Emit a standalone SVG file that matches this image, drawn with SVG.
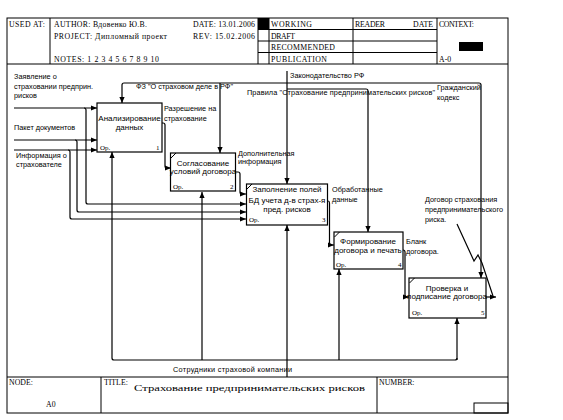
<svg xmlns="http://www.w3.org/2000/svg" width="563" height="420" viewBox="0 0 563 420">
<defs>
<marker id="ah" markerWidth="6" markerHeight="6" refX="6" refY="3" orient="auto" markerUnits="userSpaceOnUse"><path d="M0,0.4 L6,3 L0,5.6 z" fill="#000"/></marker>
</defs>
<style>
.f{fill:none;stroke:#000;stroke-width:1}
.c{fill:none;stroke:#000;stroke-width:1.2;marker-end:url(#ah)}
.n{fill:none;stroke:#000;stroke-width:1.2}
.b{fill:#fff;stroke:#000;stroke-width:1.2}
.h{font-family:"Liberation Serif",serif;font-size:7.8px;fill:#000}
.t{font-family:"Liberation Sans",sans-serif;font-size:7.3px;fill:#000}
.bt{font-family:"Liberation Sans",sans-serif;font-size:8px;fill:#000;text-anchor:middle}
.bs{font-family:"Liberation Serif",serif;font-size:7px;fill:#000}
</style>
<rect width="563" height="420" fill="#fff"/>
<g id="frame">
<rect class="f" x="7" y="18" width="501" height="395"/>
<line class="f" x1="7" y1="64" x2="508" y2="64"/>
<line class="f" x1="50" y1="18" x2="50" y2="64"/>
<line class="f" x1="258" y1="18" x2="258" y2="64"/>
<line class="f" x1="269" y1="18" x2="269" y2="64"/>
<line class="f" x1="353" y1="18" x2="353" y2="64"/>
<line class="f" x1="437" y1="18" x2="437" y2="64"/>
<line class="f" x1="258" y1="29.5" x2="437" y2="29.5"/>
<line class="f" x1="258" y1="41" x2="437" y2="41"/>
<line class="f" x1="258" y1="52.5" x2="437" y2="52.5"/>
<rect x="258" y="18" width="11" height="11.5" fill="#000"/>
<rect x="459" y="42" width="24" height="9" fill="#000"/>
<text class="h" x="9" y="27" textLength="36">USED AT:</text>
<text class="h" x="54" y="27" textLength="93">AUTHOR: Вдовенко Ю.В.</text>
<text class="h" x="54" y="38.5" textLength="113">PROJECT: Дипломный проект</text>
<text class="h" x="193" y="27" textLength="62">DATE: 13.01.2006</text>
<text class="h" x="193" y="38.5" textLength="62">REV: 15.02.2006</text>
<text class="h" x="54" y="61.5" textLength="105">NOTES: 1 2 3 4 5 6 7 8 9 10</text>
<text class="h" x="271" y="27" textLength="41">WORKING</text>
<text class="h" x="271" y="38.5" textLength="24">DRAFT</text>
<text class="h" x="271" y="50" textLength="64">RECOMMENDED</text>
<text class="h" x="271" y="61.5" textLength="56">PUBLICATION</text>
<text class="h" x="355" y="27" textLength="30">READER</text>
<text class="h" x="413" y="27" textLength="20">DATE</text>
<text class="h" x="439" y="27" textLength="35">CONTEXT:</text>
<text class="h" x="439" y="61.5">A-0</text>
<line class="f" x1="7" y1="377" x2="508" y2="377"/>
<line class="f" x1="101" y1="377" x2="101" y2="413"/>
<line class="f" x1="377" y1="377" x2="377" y2="413"/>
<rect class="f" x="474" y="403" width="34" height="10"/>
<text class="h" x="9" y="385" font-size="6.5">NODE:</text>
<text class="h" x="104" y="385" font-size="6.5">TITLE:</text>
<text class="h" x="379" y="385" font-size="6.5">NUMBER:</text>
<text class="h" x="46" y="407" font-size="10">A0</text>
<text class="h" x="134" y="391" font-size="12" textLength="231" lengthAdjust="spacingAndGlyphs">Страхование предпринимательских рисков</text>
</g>
<g id="connectors">
<path class="c" d="M14,108 H97"/>
<path class="c" d="M14,140 H97"/>
<path class="c" d="M14,150 H97"/>
<path class="c" d="M84,108 Q86,108 86,110 V202 Q86,204 88,204 H246"/>
<path class="c" d="M75,140 Q77,140 77,142 V210 Q77,212 79,212 H246"/>
<path class="c" d="M68,150 Q70,150 70,152 V217 Q70,219 72,219 H246"/>
<path class="c" d="M162,123 H163 Q165,123 165,125 V166 Q165,168 167,168 H171"/>
<path class="c" d="M236,172 H238 Q240,172 240,174 V192 Q240,194 242,194 H246"/>
<path class="c" d="M328,201 Q329.5,201 329.5,203 V243 Q329.5,245 331,245 H334"/>
<path class="c" d="M403,250 Q405,250 405,252 V295 Q405,297 407,297 H409"/>
<path class="c" d="M486,297 H496"/>
<path class="c" d="M287,71 V184"/>
<path class="c" d="M287,83 H124 Q122,83 122,85 V103"/>
<path class="c" d="M220,83 V153"/>
<path class="c" d="M287,83 H479 Q481,83 481,85 V278"/>
<path class="c" d="M287,89 H366 Q368,89 368,91 V232"/>
<path class="n" d="M114,360 H455 Q457,360 457,358"/>
<path class="c" d="M114,360 Q112,360 112,358 V152"/>
<path class="c" d="M457,360 V318"/>
<path class="c" d="M202,360 V192"/>
<path class="c" d="M287,377 V225"/>
<path class="c" d="M339,360 V269"/>
<path class="n" stroke-width="0.8" d="M457,224 L474,261 L478,255 L482,263 L493,296"/>
<text class="t" x="14" y="79">Заявление о</text>
<text class="t" x="14" y="88.5">страховании предприн.</text>
<text class="t" x="14" y="98">рисков</text>
<text class="t" x="14" y="129.5">Пакет документов</text>
<text class="t" x="16" y="158">Информация о</text>
<text class="t" x="16" y="167">страхователе</text>
<text class="t" x="136" y="89" textLength="97">ФЗ "О страховом деле в РФ"</text>
<text class="t" x="290" y="77.5">Законодательство РФ</text>
<text class="t" x="247" y="95" textLength="188">Правила "Страхование предпринимательских рисков"</text>
<text class="t" x="437" y="89.5">Гражданский</text>
<text class="t" x="437" y="99.5">кодекс</text>
<text class="t" x="164" y="110.5">Разрешение на</text>
<text class="t" x="164" y="120.5">страхование</text>
<text class="t" x="238" y="156">Дополнительная</text>
<text class="t" x="238" y="164">информация</text>
<text class="t" x="332" y="191.5">Обработанные</text>
<text class="t" x="332" y="202">данные</text>
<text class="t" x="406" y="243.5">Бланк</text>
<text class="t" x="406" y="253.5">договора.</text>
<text class="t" x="425" y="201.5">Договор страхования</text>
<text class="t" x="425" y="211.5">предпринимательского</text>
<text class="t" x="425" y="221.5">риска.</text>
<text class="t" x="173" y="372" textLength="119">Сотрудники страховой компании</text>
</g>
<g id="node1">
<rect class="b" x="97" y="103" width="65" height="49"/>
<text class="bt" x="129.5" y="120.5">Анализирование</text>
<text class="bt" x="129.5" y="129.5">данных</text>
<text class="bs" x="100" y="150">Ор.</text>
<text class="bs" x="156" y="150">1</text>
</g>
<g id="node2">
<rect class="b" x="170.5" y="153" width="65" height="38"/>
<line class="f" x1="171" y1="158" x2="176" y2="153"/>
<text class="bt" x="203" y="165.5">Согласование</text>
<text class="bt" x="203" y="174">условий договора</text>
<text class="bs" x="173" y="189">Ор.</text>
<text class="bs" x="230" y="189">2</text>
</g>
<g id="node3">
<rect class="b" x="246.5" y="184" width="81" height="41"/>
<line class="f" x1="247" y1="189" x2="252" y2="184"/>
<text class="bt" x="287" y="191.5">Заполнение полей</text>
<text class="bt" x="287" y="203" font-size="9">БД учета д-в страх-я</text>
<text class="bt" x="287" y="211.5">пред. рисков</text>
<text class="bs" x="249" y="222">Ор.</text>
<text class="bs" x="322" y="222">3</text>
</g>
<g id="node4">
<rect class="b" x="334" y="232" width="69" height="37"/>
<line class="f" x1="334.5" y1="237" x2="339.5" y2="232"/>
<text class="bt" x="368" y="244">Формирование</text>
<text class="bt" x="368" y="252.5">договора и печать</text>
<text class="bs" x="336" y="267">Ор.</text>
<text class="bs" x="398" y="267">4</text>
</g>
<g id="node5">
<rect class="b" x="409" y="278" width="77" height="40"/>
<line class="f" x1="409.5" y1="283" x2="414.5" y2="278"/>
<text class="bt" x="447" y="290.5">Проверка и</text>
<text class="bt" x="447" y="299">подписание договора</text>
<text class="bs" x="412" y="315">Ор.</text>
<text class="bs" x="481" y="315">5</text>
</g>
</svg>
